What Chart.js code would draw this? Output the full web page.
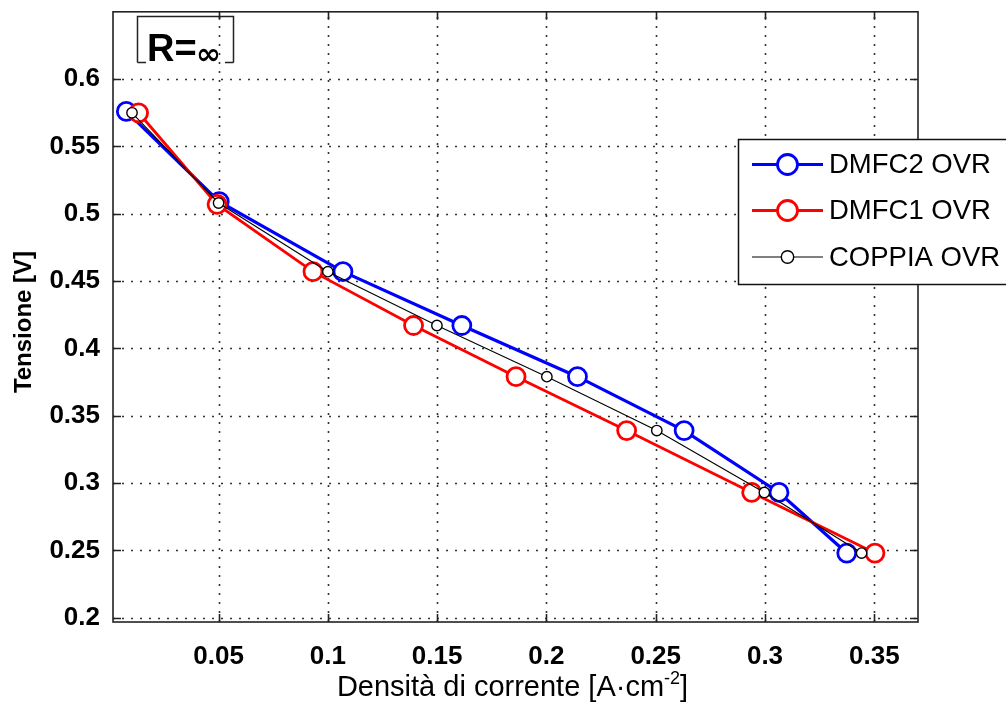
<!DOCTYPE html>
<html>
<head>
<meta charset="utf-8">
<script src="https://cdn.jsdelivr.net/npm/chart.js@4.4.0/dist/chart.umd.min.js"></script>
<style>
  html, body { margin: 0; padding: 0; background: #fff; }
  #wrap { width: 1006px; height: 702px; position: relative; }
</style>
</head>
<body>
<div id="wrap"><canvas id="c"></canvas></div>
<script>
// Polarisation curves: current density [A/cm^2] and cell voltage [V]
const dmfc2Current = [0.0078, 0.0503, 0.1069, 0.1613, 0.2142, 0.2630, 0.3064, 0.3374];
const dmfc2Voltage = [0.576, 0.509, 0.457, 0.417, 0.379, 0.339, 0.293, 0.248];
const dmfc1Current = [0.0134, 0.0493, 0.0932, 0.1392, 0.1861, 0.2367, 0.2939, 0.3503];
const dmfc1Voltage = [0.575, 0.507, 0.457, 0.417, 0.379, 0.339, 0.293, 0.248];
const coppiaCurrent = [0.0104, 0.0500, 0.1000, 0.1499, 0.2002, 0.2505, 0.2997, 0.3442];
const coppiaVoltage = [0.575, 0.508, 0.457, 0.417, 0.379, 0.339, 0.293, 0.248];

const seriesNames = ['DMFC2 OVR', 'DMFC1 OVR', 'COPPIA OVR'];
const xTickValues = [0.05, 0.1, 0.15, 0.2, 0.25, 0.3, 0.35];
const xTickLabels = ['0.05', '0.1', '0.15', '0.2', '0.25', '0.3', '0.35'];
const yTickValues = [0.2, 0.25, 0.3, 0.35, 0.4, 0.45, 0.5, 0.55, 0.6];
const yTickLabels = ['0.2', '0.25', '0.3', '0.35', '0.4', '0.45', '0.5', '0.55', '0.6'];

const toPoints = (xs, ys) => xs.map((x, i) => ({ x: x, y: ys[i] }));

const SANS = '"Liberation Sans", Arial, Helvetica, sans-serif';

// Dotted grid, inward ticks, axis box, legend, note and axis titles
const framePlugin = {
  id: 'frame',
  beforeDatasetsDraw(chart) {
    const { ctx, chartArea: a, scales } = chart;
    ctx.save();
    ctx.strokeStyle = '#333';
    ctx.lineWidth = 1.6;
    ctx.setLineDash([2, 7]);
    xTickValues.forEach(v => {
      const px = Math.round(scales.x.getPixelForValue(v)) + 0.5;
      ctx.beginPath(); ctx.moveTo(px, a.bottom); ctx.lineTo(px, a.top); ctx.stroke();
    });
    yTickValues.forEach(v => {
      const py = Math.round(scales.y.getPixelForValue(v)) + 0.5;
      ctx.beginPath(); ctx.moveTo(a.left, py); ctx.lineTo(a.right, py); ctx.stroke();
    });
    ctx.restore();
  },
  afterDatasetsDraw(chart) {
    const { ctx, chartArea: a, scales } = chart;
    ctx.save();
    // axis box and inward ticks
    ctx.strokeStyle = '#222';
    ctx.lineWidth = 1.6;
    ctx.setLineDash([]);
    ctx.strokeRect(a.left, a.top, a.right - a.left, a.bottom - a.top);
    const tl = 8;
    ctx.beginPath();
    xTickValues.forEach(v => {
      const px = Math.round(scales.x.getPixelForValue(v)) + 0.5;
      ctx.moveTo(px, a.bottom); ctx.lineTo(px, a.bottom - tl);
      ctx.moveTo(px, a.top); ctx.lineTo(px, a.top + tl);
    });
    yTickValues.forEach(v => {
      const py = Math.round(scales.y.getPixelForValue(v)) + 0.5;
      ctx.moveTo(a.left, py); ctx.lineTo(a.left + tl, py);
      ctx.moveTo(a.right, py); ctx.lineTo(a.right - tl, py);
    });
    ctx.stroke();

    // note box "R=∞"
    ctx.lineWidth = 1.5;
    ctx.strokeStyle = '#222';
    ctx.beginPath();
    ctx.moveTo(137.5, 62.5); ctx.lineTo(137.5, 16.5); ctx.lineTo(233.5, 16.5); ctx.lineTo(233.5, 62.5);
    ctx.moveTo(137.5, 62.5); ctx.lineTo(146, 62.5);
    ctx.moveTo(225, 62.5); ctx.lineTo(233.5, 62.5);
    ctx.stroke();
    ctx.fillStyle = '#000';
    ctx.textBaseline = 'alphabetic';
    ctx.textAlign = 'left';
    ctx.font = 'bold 38px ' + SANS;
    ctx.fillText('R=', 147, 61);
    ctx.font = 'bold 30px "DejaVu Sans", sans-serif';
    ctx.fillText('\u221E', 196, 64);

    // legend
    const lx = 738.5, ly = 139.5, lw = 300, lh = 145;
    ctx.fillStyle = '#fff';
    ctx.fillRect(lx, ly, lw, lh);
    ctx.strokeStyle = '#111';
    ctx.lineWidth = 1.5;
    ctx.strokeRect(lx, ly, lw, lh);
    const rowsY = [164.5, 210.5, 257];
    chart.data.datasets.forEach((ds, i) => {
      const y = rowsY[i];
      ctx.strokeStyle = ds.borderColor;
      ctx.lineWidth = ds.borderWidth;
      ctx.beginPath(); ctx.moveTo(752, y); ctx.lineTo(823, y); ctx.stroke();
      ctx.fillStyle = '#fff';
      ctx.lineWidth = ds.pointBorderWidth;
      ctx.beginPath(); ctx.arc(787.5, y, ds.pointRadius + 1, 0, Math.PI * 2); ctx.fill(); ctx.stroke();
      ctx.fillStyle = '#000';
      ctx.font = '27.5px ' + SANS;
      ctx.textBaseline = 'middle';
      ctx.fillText(ds.label, 829, y + 1);
    });

    // axis titles
    ctx.fillStyle = '#000';
    ctx.textBaseline = 'alphabetic';
    const main = 'Densit\u00e0 di corrente [A\u00b7cm';
    const sup = '-2';
    const tail = ']';
    ctx.font = '29px ' + SANS;
    const wMain = ctx.measureText(main).width;
    const wTail = ctx.measureText(tail).width;
    ctx.font = '18px ' + SANS;
    const wSup = ctx.measureText(sup).width;
    const total = wMain + wSup + wTail;
    let x0 = 512.5 - total / 2;
    const base = 696;
    ctx.font = '29px ' + SANS;
    ctx.fillText(main, x0, base);
    ctx.font = '18px ' + SANS;
    ctx.fillText(sup, x0 + wMain, base - 12);
    ctx.font = '29px ' + SANS;
    ctx.fillText(tail, x0 + wMain + wSup, base);

    ctx.save();
    ctx.translate(24, 322);
    ctx.rotate(-Math.PI / 2);
    ctx.font = 'bold 24px ' + SANS;
    ctx.textAlign = 'center';
    ctx.textBaseline = 'middle';
    ctx.fillText('Tensione [V]', 0, 0);
    ctx.restore();

    ctx.restore();
  }
};

new Chart(document.getElementById('c'), {
  type: 'line',
  data: {
    datasets: [
      {
        label: seriesNames[0],
        data: toPoints(dmfc2Current, dmfc2Voltage),
        borderColor: '#0000ff', borderWidth: 3.2,
        pointRadius: 9, pointBorderWidth: 2.8,
        pointBackgroundColor: '#fff', pointBorderColor: '#0000ff',
        order: 2
      },
      {
        label: seriesNames[1],
        data: toPoints(dmfc1Current, dmfc1Voltage),
        borderColor: '#ff0000', borderWidth: 2.8,
        pointRadius: 9, pointBorderWidth: 2.8,
        pointBackgroundColor: '#fff', pointBorderColor: '#ff0000',
        order: 1
      },
      {
        label: seriesNames[2],
        data: toPoints(coppiaCurrent, coppiaVoltage),
        borderColor: '#000000', borderWidth: 1.1,
        pointRadius: 5.2, pointBorderWidth: 1.4,
        pointBackgroundColor: '#fff', pointBorderColor: '#000000',
        order: 0
      }
    ]
  },
  options: {
    responsive: true,
    maintainAspectRatio: false,
    animation: false,
    devicePixelRatio: 1,
    layout: { padding: { top: 11, right: 88, left: 0, bottom: 0 } },
    plugins: { legend: { display: false }, tooltip: { enabled: false } },
    scales: {
      x: {
        type: 'linear',
        min: 0.0017, max: 0.37,
        afterBuildTicks: s => { s.ticks = xTickValues.map(v => ({ value: v })); },
        afterFit: s => { s.height = 80; s.paddingLeft = 0; s.paddingRight = 0; },
        grid: { display: false, drawTicks: false },
        border: { display: false },
        ticks: {
          padding: 19,
          color: '#000',
          font: { family: SANS, size: 26, weight: 'bold' },
          maxRotation: 0,
          callback: (v) => { const i = xTickValues.indexOf(v); return i >= 0 ? xTickLabels[i] : ''; }
        }
      },
      y: {
        type: 'linear',
        min: 0.1968, max: 0.65,
        afterBuildTicks: s => { s.ticks = yTickValues.map(v => ({ value: v })); },
        afterFit: s => { s.width = 113; s.paddingTop = 0; s.paddingBottom = 0; },
        grid: { display: false, drawTicks: false },
        border: { display: false },
        ticks: {
          padding: 13,
          color: '#000',
          font: { family: SANS, size: 26, weight: 'bold' },
          callback: (v) => { const i = yTickValues.indexOf(v); return i >= 0 ? yTickLabels[i] : ''; }
        }
      }
    }
  },
  plugins: [framePlugin]
});
</script>
</body>
</html>
